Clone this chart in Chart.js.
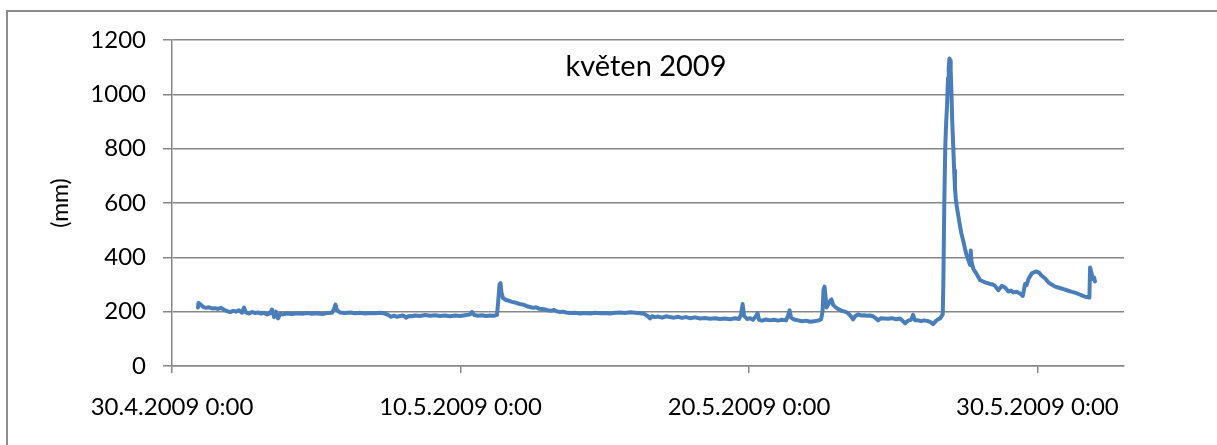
<!DOCTYPE html>
<html lang="cs">
<head>
<meta charset="utf-8">
<title>květen 2009</title>
<script src="https://cdn.jsdelivr.net/npm/chart.js@4.4.1/dist/chart.umd.min.js"></script>
<style>
  html, body { margin: 0; padding: 0; background: #ffffff; }
  #wrap { position: relative; width: 1217px; height: 445px; }
  canvas { display: block; }
</style>
</head>
<body>
<div id="wrap"><canvas id="chart" width="1217" height="445"></canvas></div>
<script>
// Hodiny od 30.4.2009 0:00 a naměřená hladina (mm)
const hours = [
  21.6, 22.0, 23.3, 25.8, 28.3, 30.8, 33.3, 35.8, 38.3, 40.8,
  43.3, 45.8, 48.3, 50.8, 53.2, 55.7, 58.2, 59.9, 61.6, 64.1,
  66.6, 69.1, 71.6, 74.0, 76.5, 79.0, 81.5, 83.2, 84.9, 86.5,
  88.2, 89.9, 92.4, 95.7, 99.8, 104.0, 108.2, 112.3, 116.5, 120.6,
  124.8, 129.0, 133.1, 134.8, 136.0, 137.3, 139.8, 143.9, 148.1, 152.3,
  156.4, 160.6, 164.7, 168.9, 173.1, 177.2, 179.7, 182.2, 184.7, 187.2,
  189.7, 192.2, 194.7, 197.2, 199.7, 202.2, 206.3, 210.5, 214.7, 218.8,
  223.0, 227.1, 231.3, 235.5, 239.6, 243.8, 247.9, 249.6, 251.3, 254.6,
  257.9, 261.2, 264.6, 267.9, 270.4,
  271.6, 272.5, 273.3, 274.1, 275.4, 277.9, 280.4, 282.9, 285.4, 287.9,
  290.4, 292.9, 295.4, 297.8, 300.4, 302.8, 305.3, 307.8, 310.3, 312.8,
  315.3, 317.8, 320.3, 322.8, 325.3, 327.8, 331.1, 335.3, 339.5, 343.6,
  347.8, 351.9, 356.1, 360.3, 364.4, 368.6, 372.7, 376.9, 381.1, 385.2,
  389.4, 392.7, 396.0, 397.7, 399.4, 401.9, 404.4, 407.7, 411.0, 414.3,
  417.7, 421.0, 424.3, 427.6, 431.0, 435.1, 439.3, 443.5, 447.6, 451.8,
  455.9, 460.1, 464.3, 468.4, 471.7, 473.4, 474.7, 475.9, 478.4, 480.9,
  483.4, 485.9, 487.1, 488.4, 490.9, 494.2, 497.5, 500.9, 504.2, 507.5,
  510.8, 512.5, 513.8, 515.0, 517.5, 520.8, 524.2, 527.5, 530.8, 534.1,
  537.5, 540.0, 541.2, 542.0, 542.9, 543.7, 544.5, 545.8, 547.5, 548.7,
  550.0, 552.4, 554.9, 557.4, 559.9, 562.4, 564.9, 566.6, 568.3, 570.8,
  573.2, 575.7, 578.2, 580.7, 583.2, 585.7, 587.4, 589.9, 592.4, 595.7,
  599.0, 602.4, 605.7, 608.2, 609.9, 612.4, 614.8, 616.5, 618.2, 620.7,
  623.2, 625.7, 628.2, 630.7, 633.2, 635.6, 637.3, 639.0, 641.2, 641.7,
  642.5, 643.3, 644.1, 644.8, 645.6, 646.2, 646.8, 647.3, 647.8, 648.5,
  649.1, 650.0, 650.7, 651.4, 652.1, 652.8, 653.9, 655.0, 656.6, 658.3,
  659.7, 661.1, 662.5, 663.9, 664.5, 665.1, 666.7, 669.5, 672.3, 674.4,
  676.4, 678.5, 680.6, 682.7, 684.7, 687.5, 690.3, 693.1, 695.8, 697.9,
  700.0, 702.8, 705.5, 707.8, 709.7, 711.0, 712.5, 715.3, 717.2, 719.4,
  721.4, 723.6, 726.4, 729.1, 731.8, 734.7, 738.0, 741.6, 745.1, 748.6,
  751.3, 754.1, 756.9, 759.6, 763.2, 763.8, 765.2, 766.0, 767.1, 767.9
];

const levels = [
  215, 232, 228, 218, 214, 216, 212, 213, 210, 214,
  207, 202, 198, 203, 200, 205, 196, 215, 197, 193,
  199, 195, 197, 193, 196, 190, 194, 208, 180, 200,
  175, 192, 190, 193, 191, 194, 192, 195, 192, 194,
  191, 195, 196, 210, 226, 205, 197, 195, 197, 194,
  196, 193, 195, 194, 196, 193, 188, 181, 185, 181,
  184, 186, 178, 184, 183, 186, 184, 188, 185, 187,
  184, 186, 183, 186, 184, 187, 190, 199, 188, 185,
  187, 184, 186, 185, 188,
  250, 300, 305, 270, 250, 243, 240, 236, 234, 230,
  227, 225, 220, 217, 214, 216, 211, 210, 208, 205,
  203, 206, 201, 199, 200, 197, 195, 196, 193, 195,
  193, 196, 194, 195, 193, 196, 197, 195, 198, 196,
  194, 192, 183, 175, 183, 180, 182, 178, 183, 180,
  178, 181, 177, 180, 176, 179, 175, 177, 174, 176,
  173, 175, 172, 176, 173, 190, 228, 185, 173, 176,
  170, 184, 195, 170, 167, 171, 168, 170, 167, 170,
  168, 185, 205, 178, 171, 168, 165, 167, 163, 165,
  167, 172, 200, 280, 292, 255, 215, 225, 240, 245,
  225, 215, 208, 203, 200, 195, 183, 172, 183, 190,
  186, 187, 185, 186, 183, 175, 168, 176, 175, 174,
  176, 172, 175, 165, 157, 167, 170, 188, 168, 168,
  165, 168, 166, 162, 154, 166, 172, 175, 190, 300,
  600, 806, 900, 960, 1060, 1100, 1132, 1125, 1090, 1000,
  900, 800, 720, 655, 615, 590, 560, 530, 490, 460,
  432, 408, 390, 372, 425, 385, 357, 338, 316, 312,
  308, 305, 302, 300, 295, 279, 295, 289, 274, 278,
  271, 273, 267, 258, 302, 298, 320, 341, 345, 348,
  343, 332, 322, 308, 300, 292, 288, 283, 278, 273,
  270, 265, 260, 255, 252, 363, 338, 320, 326, 311
];

// Popisky osy x a jejich poloha (hodiny od 30.4.2009 0:00)
const xTickHours = [0, 240, 480, 720];
const xTickLabels = ['30.4.2009 0:00', '10.5.2009 0:00', '20.5.2009 0:00', '30.5.2009 0:00'];
const yTicks = [0, 200, 400, 600, 800, 1000, 1200];
const chartTitle = 'květen 2009';
const yTitle = '(mm)';

const GRID = '#878787';
const FONT = 'Lato, "Open Sans", sans-serif';

const points = hours.map((h, i) => ({ x: h, y: levels[i] }));

// Bílé pozadí a rámeček grafu
const frame = {
  id: 'frame',
  beforeDraw(chart) {
    const ctx = chart.ctx;
    ctx.save();
    ctx.fillStyle = '#ffffff';
    ctx.fillRect(0, 0, chart.width, chart.height);
    ctx.strokeStyle = '#8c8c8c';
    ctx.lineWidth = 2;
    ctx.beginPath();
    ctx.moveTo(7, chart.height + 5);
    ctx.lineTo(7, 11);
    ctx.lineTo(chart.width + 5, 11);
    ctx.stroke();
    ctx.restore();
  }
};

// Nadpis uvnitř plochy grafu a svislý popisek osy y
const labels = {
  id: 'labels',
  afterDatasetsDraw(chart) {
    const { ctx, chartArea } = chart;
    ctx.save();
    ctx.fillStyle = '#000000';
    ctx.textAlign = 'center';
    ctx.textBaseline = 'middle';
    ctx.font = '29px ' + FONT;
    ctx.fillText(chartTitle, (chartArea.left + chartArea.right) / 2 - 2, chartArea.top + 27);
    ctx.translate(chartArea.left - 111, (chartArea.top + chartArea.bottom) / 2);
    ctx.rotate(-Math.PI / 2);
    ctx.font = '23px ' + FONT;
    ctx.fillText(yTitle, 0, 0);
    ctx.restore();
  }
};

new Chart(document.getElementById('chart'), {
  type: 'line',
  data: {
    datasets: [{
      data: points,
      borderColor: '#4a7ebb',
      borderWidth: 4,
      borderJoinStyle: 'round',
      borderCapStyle: 'round',
      pointRadius: 0,
      tension: 0,
      fill: false
    }]
  },
  options: {
    responsive: false,
    animation: false,
    events: [],
    layout: { padding: { top: 40, right: 93, left: 0, bottom: 0 } },
    plugins: {
      legend: { display: false },
      title: { display: false },
      tooltip: { enabled: false }
    },
    scales: {
      x: {
        type: 'linear',
        min: 0,
        max: 792,
        afterBuildTicks(scale) {
          scale.ticks = xTickHours.map(v => ({ value: v }));
        },
        afterFit(scale) { scale.height = 79; },
        ticks: {
          autoSkip: false,
          maxRotation: 0,
          minRotation: 0,
          padding: 20,
          color: '#000000',
          font: { family: FONT, size: 24 },
          callback(value, index) { return xTickLabels[index]; }
        },
        grid: {
          display: true,
          drawOnChartArea: false,
          drawTicks: true,
          tickLength: 7,
          color: GRID,
          lineWidth: 1.5
        },
        border: { display: true, color: GRID, width: 1.5 }
      },
      y: {
        type: 'linear',
        min: 0,
        max: 1200,
        afterBuildTicks(scale) {
          scale.ticks = yTicks.map(v => ({ value: v }));
        },
        afterFit(scale) { scale.width = 172; },
        ticks: {
          padding: 17,
          color: '#000000',
          font: { family: FONT, size: 24 },
          callback(value) { return String(value); }
        },
        grid: {
          color: GRID,
          lineWidth: 1.5,
          tickLength: 9,
          drawTicks: true
        },
        border: { display: true, color: GRID, width: 1.5 }
      }
    }
  },
  plugins: [frame, labels]
});
</script>
</body>
</html>
